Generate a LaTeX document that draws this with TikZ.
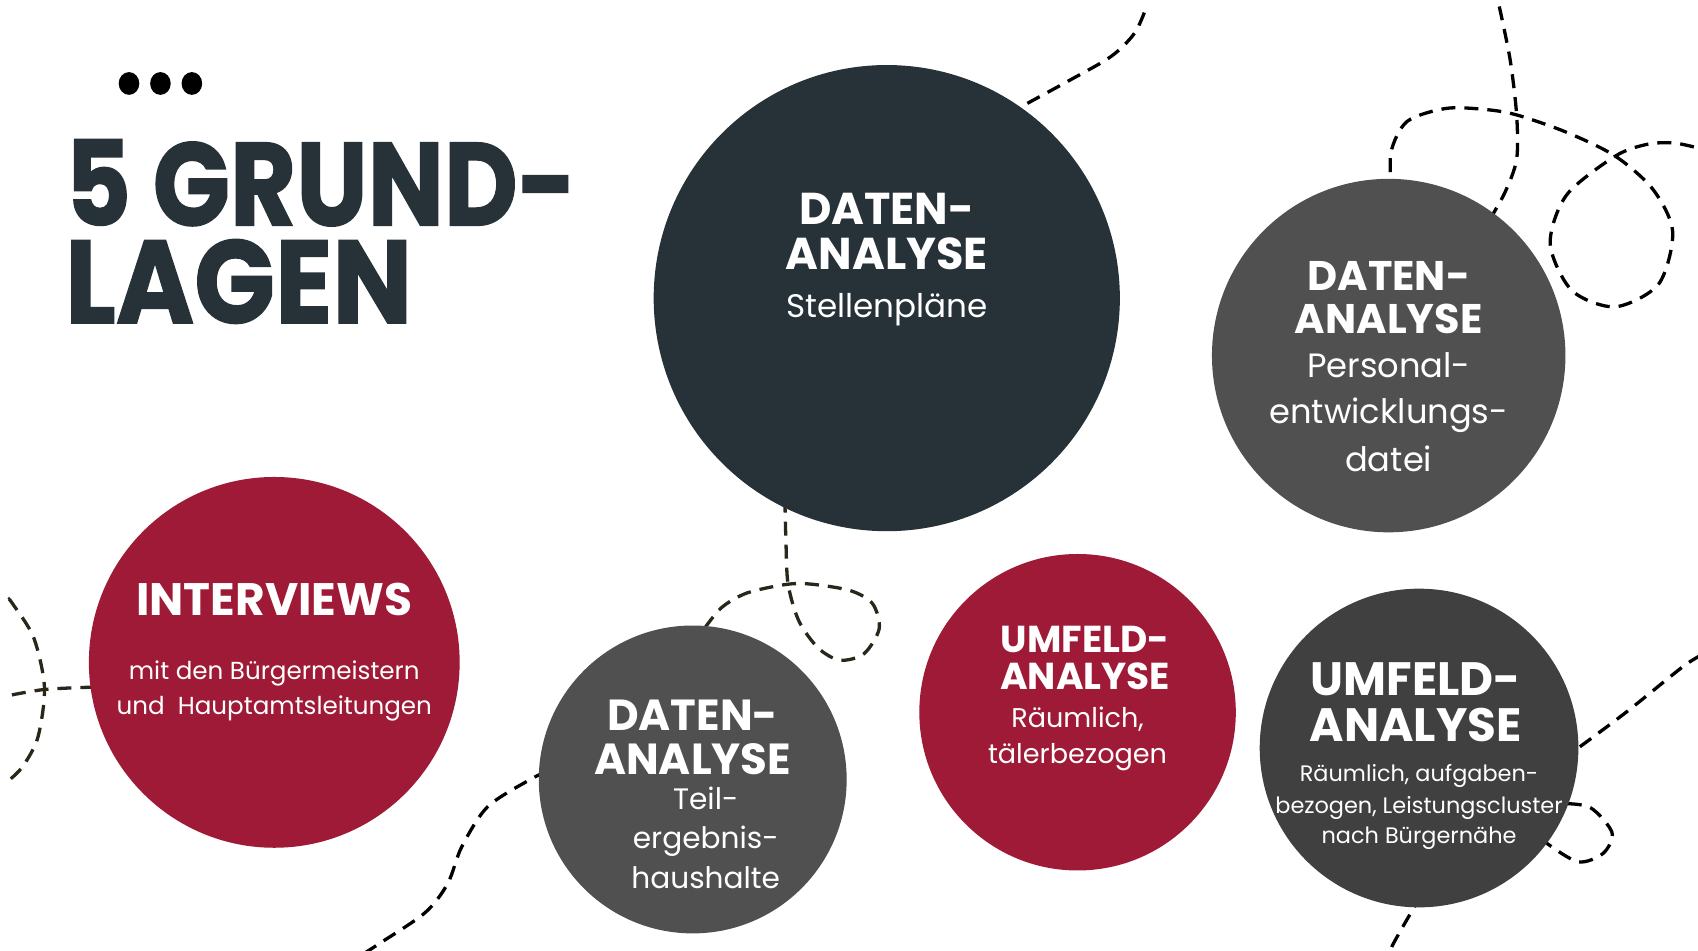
\documentclass[tikz,border=0pt]{standalone}
\usepackage{fontspec}
\setmainfont{Poppins}
\newfontfamily\ttlfont{Poppins}[BoldFeatures={FakeBold=1.2}]
\definecolor{darkslate}{HTML}{263238}
\definecolor{crim}{HTML}{9E1A36}
\definecolor{midgray}{HTML}{505050}
\definecolor{deepgray}{HTML}{404040}
\definecolor{olive}{HTML}{29271A}
\begin{document}
\begin{tikzpicture}[x=1.0885pt, y=-1.0885pt,
  blob/.style={circle, inner sep=0pt, draw=none},
  dsh/.style={draw=black, line width=3.3pt, dash pattern=on 14pt off 9pt},
  odsh/.style={dsh, draw=olive},
  ttl/.style={anchor=base west, inner sep=0pt, text depth=0pt, text=darkslate, font=\fontsize{118}{118}\selectfont\ttlfont\bfseries},
  hd/.style={anchor=base, inner sep=0pt, text=white, font=\fontsize{#1}{#1}\selectfont\bfseries},
  tx/.style={anchor=base, inner sep=0pt, text=white, font=\fontsize{#1}{#1}\selectfont}
]
\useasboundingbox (0,0) rectangle (1560,873);
\fill[white] (0,0) rectangle (1560,873);
\begin{scope}[x=1.0841pt, y=-1.0841pt]
% dashed decorations (behind circles)
\draw[dsh] plot[smooth] coordinates {(930,107) (943,98) (985,75) (1025,52) (1047,30) (1058,5)};
\draw[dsh] plot[smooth] coordinates {(1383,6) (1393,55) (1399,106) (1399,147) (1388,178) (1372,206)};
\draw[dsh] plot[smooth] coordinates {(1284,180) (1283,141) (1298,112) (1334,100) (1370,101) (1399,106) (1445,122) (1490,144) (1525,175) (1543,214) (1530,262) (1490,283) (1450,268) (1430,225) (1445,180) (1490,144) (1520,133) (1545,132) (1568,137)};
\draw[odsh] plot[smooth] coordinates {(724,460) (725,500) (727,539) (737,573) (755,598) (775,609) (797,603) (811,580) (805,557) (785,545) (750,539) (726,539) (689,547) (665,561) (646,585)};
\draw[dsh] plot[smooth] coordinates {(505,712) (491,718) (450,744) (426,781) (413,815) (392,842) (349,871) (335,880)};
\draw[odsh] plot[smooth] coordinates {(8,553) (11,556) (31,588) (41,634) (35,680) (21,707) (8,720)};
\draw[odsh] plot[smooth] coordinates {(11,641) (41,636) (81,634) (95,634)};
\draw[dsh] plot[smooth] coordinates {(1440,701) (1449,695) (1500,657) (1551,616) (1568,605)};
\draw[dsh] plot[smooth] coordinates {(1425,742) (1439,741) (1467,745) (1487,768) (1479,787) (1456,795) (1427,778) (1418,768)};
\draw[dsh] plot[smooth] coordinates {(1312,826) (1305,836) (1285,871) (1282,880)};

% dots
\fill[black] (119,77) circle[x radius=9.5, y radius=10.5];
\fill[black] (148,77) circle[x radius=9.5, y radius=10.5];
\fill[black] (177,77) circle[x radius=9.5, y radius=10.5];

% title
\node[ttl] (title1) at (60,208) {\scalebox{0.86}[1]{5 GRUND-}};
\node[ttl] (title2) at (60,298) {\scalebox{0.90}[1]{LAGEN}};

% circles
\node[blob, fill=darkslate, minimum size=466.2pt] (c1) at (818,275) {};
\node[blob, fill=midgray, minimum size=353.5pt] (c2) at (1281,328) {};
\node[blob, fill=crim, minimum size=370.8pt] (c3) at (253,611) {};
\node[blob, fill=midgray, minimum size=307.9pt] (c4) at (639,719) {};
\node[blob, fill=crim, minimum size=316.5pt] (c5) at (994,657) {};
\node[blob, fill=deepgray, minimum size=318.7pt] (c6) at (1309,690) {};

% texts circle 1
\node[hd=44.6] (c1a) at (818,207) {DATEN-};
\node[hd=44.6] (c1b) at (818,249) {ANALYSE};
\node[tx=32.6] (c1c) at (818,293) {Stellenpläne};
% circle 2
\node[hd=41.4] (c2a) at (1281,268) {DATEN-};
\node[hd=41.4] (c2b) at (1281,308) {ANALYSE};
\node[tx=33.7] (c2c) at (1281,348) {Personal-};
\node[tx=33.7] (c2d) at (1281,391) {entwicklungs-};
\node[tx=33.7] (c2e) at (1281,435) {datei};
% circle 3
\node[hd=45.5] (c3a) at (253,568) {INTERVIEWS};
\node[tx=24.6] (c3b) at (253,627) {mit den Bürgermeistern};
\node[tx=24.6] (c3c) at (253,659) {und\ \ Hauptamtsleitungen};
% circle 4
\node[hd=43.5] (c4a) at (639,674) {DATEN-};
\node[hd=43.5] (c4b) at (639,714) {ANALYSE};
\node[tx=29.6] (c4c) at (651,747) {Teil-};
\node[tx=29.6] (c4d) at (651,783) {ergebnis-};
\node[tx=29.6] (c4e) at (651,820) {haushalte};
% circle 5
\node[hd=37.5] (c5a) at (1001,602) {UMFELD-};
\node[hd=37.5] (c5b) at (1001,636) {ANALYSE};
\node[tx=27.1] (c5c) at (994,671) {Räumlich,};
\node[tx=27.1] (c5d) at (994,704) {tälerbezogen};
% circle 6
\node[hd=46.8] (c6a) at (1306,642) {UMFELD-};
\node[hd=46.8] (c6b) at (1306,684) {ANALYSE};
\node[tx=22.4] (c6c) at (1309,721) {Räumlich, aufgaben-};
\node[tx=22.4] (c6d) at (1309,750) {bezogen, Leistungscluster};
\node[tx=22.4] (c6e) at (1309,778) {nach Bürgernähe};
\end{scope}
\end{tikzpicture}
\end{document}
